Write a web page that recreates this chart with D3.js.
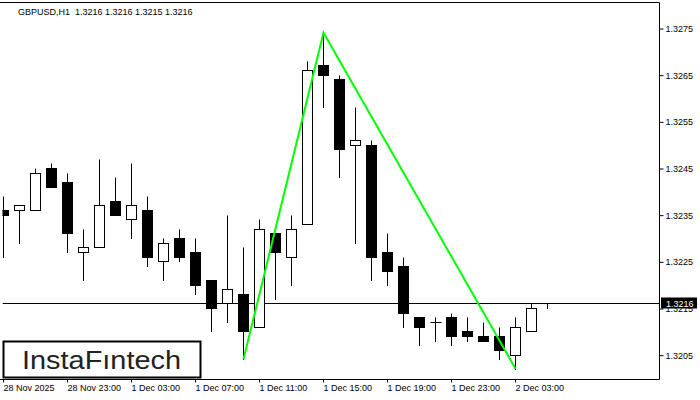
<!DOCTYPE html>
<html>
<head>
<meta charset="utf-8">
<script src="https://cdn.jsdelivr.net/npm/d3@7"></script>
<style>
  html, body { margin: 0; padding: 0; background: #fff; }
  svg { display: block; }
  text { font-family: "Liberation Sans", Arial, sans-serif; }
  .title { white-space: pre; }
</style>
</head>
<body>
<svg id="chart" width="700" height="400"></svg>
<script>
// ---- data ----
const titleText = "GBPUSD,H1  1.3216 1.3216 1.3215 1.3216";
const candleOpen  = [1.3236,1.3236,1.3236,1.3245,1.3242,1.3227,1.3228,1.3238,1.3234,1.3236,1.3225,1.3230,1.3227,1.3221,1.3216,1.3218,1.3211,1.3231,1.3226,1.3233,1.3267,1.3264,1.3250,1.3250,1.3227,1.3224,1.3213,1.3212,1.3213,1.3210,1.3209,1.3209,1.3205,1.3210,1.3216];
const candleHigh  = [1.3239,1.3237,1.3245,1.3246,1.3244,1.3232,1.3247,1.3243,1.3246,1.3239,1.3230,1.3232,1.3230,1.3221,1.3235,1.3228,1.3234,1.3231,1.3235,1.3268,1.3274,1.3265,1.3258,1.3251,1.3231,1.3226,1.3213,1.3213,1.3214,1.3213,1.3212,1.3211,1.3213,1.3216,1.3216];
const candleLow   = [1.3226,1.3229,1.3236,1.3241,1.3227,1.3221,1.3228,1.3235,1.3230,1.3224,1.3221,1.3225,1.3218,1.3210,1.3212,1.3204,1.3211,1.3217,1.3220,1.3233,1.3258,1.3243,1.3229,1.3221,1.3220,1.3211,1.3207,1.3208,1.3207,1.3208,1.3208,1.3204,1.3202,1.3210,1.3215];
const candleClose = [1.3235,1.3237,1.3244,1.3241,1.3231,1.3228,1.3237,1.3235,1.3237,1.3226,1.3229,1.3226,1.3220,1.3215,1.3219,1.3210,1.3232,1.3227,1.3232,1.3266,1.3265,1.3249,1.3251,1.3226,1.3223,1.3214,1.3211,1.3212,1.3209,1.3209,1.3208,1.3206,1.3211,1.3215,1.3216];
const xTickIndex  = [0, 4, 8, 12, 16, 20, 24, 28, 32];
const xTickLabels = ["28 Nov 2025","28 Nov 23:00","1 Dec 03:00","1 Dec 07:00","1 Dec 11:00","1 Dec 15:00","1 Dec 19:00","1 Dec 23:00","2 Dec 03:00"];
const yTickValues = [1.3205, 1.3215, 1.3225, 1.3235, 1.3245, 1.3255, 1.3265, 1.3275];
const patternIndex = [15, 20, 32];
const patternPrice = [1.3204, 1.3274, 1.3202];
const currentPrice = 1.3216;
const logoText = "InstaF\u0131ntech";

// ---- layout ----
const plot = { left: 2.5, right: 659.5, top: 2.5, bottom: 379.5 };
const svg = d3.select("#chart");

const x = d3.scaleLinear().domain([0, 41]).range([3.5, 659.5]);
const y = d3.scaleLinear().domain([1.3200, 1.3275]).range([378, 28]);
const py = v => Math.round(y(v)) + 0.5;
const px = i => Math.floor(x(i)) + 0.5;

const candles = candleOpen.map((o, i) => ({
  i, o, h: candleHigh[i], l: candleLow[i], c: candleClose[i]
}));

svg.append("defs").append("clipPath").attr("id", "plotclip")
  .append("rect").attr("x", plot.left).attr("y", plot.top)
  .attr("width", plot.right - plot.left).attr("height", plot.bottom - plot.top);

const g = svg.append("g").attr("clip-path", "url(#plotclip)");

// current price line
g.append("line")
  .attr("x1", plot.left).attr("x2", plot.right)
  .attr("y1", py(currentPrice)).attr("y2", py(currentPrice))
  .attr("stroke", "#000").attr("stroke-width", 1);

// wicks
g.selectAll("line.wick").data(candles).join("line")
  .attr("class", "wick")
  .attr("x1", d => px(d.i)).attr("x2", d => px(d.i))
  .attr("y1", d => py(d.h)).attr("y2", d => py(d.l) + 0.5)
  .attr("stroke", "#000").attr("stroke-width", 1);

// bodies
const bodyHalf = 5;
g.selectAll("rect.body").data(candles.filter(d => d.o !== d.c)).join("rect")
  .attr("class", "body")
  .attr("x", d => px(d.i) - bodyHalf)
  .attr("width", bodyHalf * 2)
  .attr("y", d => py(Math.max(d.o, d.c)))
  .attr("height", d => py(Math.min(d.o, d.c)) - py(Math.max(d.o, d.c)))
  .attr("fill", d => d.c > d.o ? "#fff" : "#000")
  .attr("stroke", "#000").attr("stroke-width", 1);

// doji
g.selectAll("line.doji").data(candles.filter(d => d.o === d.c)).join("line")
  .attr("class", "doji")
  .attr("x1", d => px(d.i) - bodyHalf).attr("x2", d => px(d.i) + bodyHalf + 1)
  .attr("y1", d => py(d.o)).attr("y2", d => py(d.o))
  .attr("stroke", "#000").attr("stroke-width", 1);

// pattern line
const pattern = patternIndex.map((idx, k) => [x(idx), y(patternPrice[k])]);
g.append("path")
  .attr("d", d3.line()(pattern))
  .attr("fill", "none").attr("stroke", "#00ff00").attr("stroke-width", 2);

// border
svg.append("path")
  .attr("d", `M0,${plot.top}H${plot.right}V${plot.bottom}H0`)
  .attr("fill", "none").attr("stroke", "#000").attr("stroke-width", 1);

// y axis
const yAxis = d3.axisRight(y).tickValues(yTickValues).tickSize(4).tickPadding(2)
  .tickFormat(d3.format(".4f"));
const yg = svg.append("g").attr("transform", `translate(${plot.right},0.5)`).call(yAxis);
yg.select(".domain").remove();
yg.selectAll(".tick line").attr("stroke", "#000");
yg.selectAll(".tick text").attr("font-size", 9).attr("fill", "#000")
  .attr("font-family", "Liberation Sans, Arial, sans-serif");

// current price label
svg.append("rect")
  .attr("x", 661).attr("y", py(currentPrice) - 6)
  .attr("width", 36).attr("height", 11).attr("fill", "#000");
svg.append("text")
  .attr("x", 666).attr("y", py(currentPrice) + 3.5)
  .attr("font-size", 9).attr("fill", "#fff").text(d3.format(".4f")(currentPrice));

// x axis
const xAxis = d3.axisBottom(x).tickValues(xTickIndex).tickSize(3).tickPadding(2)
  .tickFormat((d, k) => xTickLabels[k]);
const xg = svg.append("g").attr("transform", `translate(0,${plot.bottom})`).call(xAxis);
xg.select(".domain").remove();
xg.selectAll(".tick").attr("transform", d => `translate(${px(d)},0)`);
xg.selectAll(".tick line").attr("stroke", "#000");
xg.selectAll(".tick text").attr("font-size", 9).attr("fill", "#000")
  .attr("text-anchor", "start").attr("x", 0).attr("dy", "0.71em")
  .attr("font-family", "Liberation Sans, Arial, sans-serif");

// title
svg.append("text").attr("class", "title").attr("x", 18).attr("y", 14.5)
  .attr("font-size", 9).attr("fill", "#000").text(titleText);

// logo
svg.append("rect").attr("x", 3.5).attr("y", 341.5).attr("width", 197).attr("height", 36)
  .attr("fill", "#fff").attr("stroke", "#000").attr("stroke-width", 2);
svg.append("text").attr("x", 22).attr("y", 368.5)
  .attr("font-family", "Open Sans, sans-serif").attr("font-size", 26)
  .attr("fill", "#222").attr("textLength", 159).attr("lengthAdjust", "spacingAndGlyphs")
  .text(logoText);
</script>
</body>
</html>
